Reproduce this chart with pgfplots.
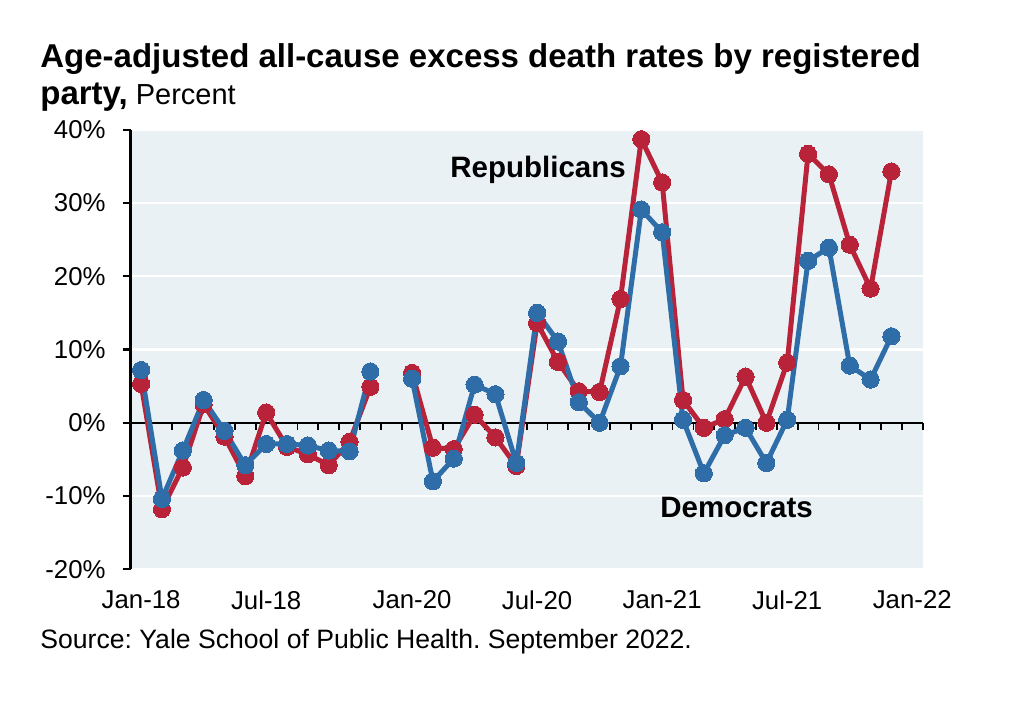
\documentclass[border=0pt]{standalone}
\usepackage{pgfplots}
\pgfplotsset{compat=1.18}
\usepackage{fontspec}
\setmainfont{Liberation Sans}
\definecolor{repred}{HTML}{B8233A}
\definecolor{demblue}{HTML}{2E6DA8}
\definecolor{plotbg}{HTML}{EAF1F5}
\begin{document}
\frenchspacing
\begin{tikzpicture}
\path[use as bounding box] (0,0) rectangle (509.5pt,352pt);
\begin{axis}[
  at={(65.35pt,67.35pt)}, anchor=south west,
  scale only axis, width=396pt, height=219.8pt,
  xmin=-0.5, xmax=37.5, ymin=-20, ymax=40,
  axis background/.style={fill=plotbg},
  x axis line style={draw=none},
  y axis line style={black, line width=1.2pt},
  separate axis lines,
  axis x line*=bottom, axis y line*=left,
  xtick={0,6,13,19,25,31,37},
  xticklabels={Jan-18,Jul-18,Jan-20,Jul-20,Jan-21,Jul-21,Jan-22},
  x tick style={draw=none},
  ytick={-20,-10,0,10,20,30,40},
  yticklabels={-20\%,-10\%,0\%,10\%,20\%,30\%,40\%},
  tick align=outside,
  y tick style={black, line width=1.1pt},
  major tick length=4pt,
  ymajorgrids, grid style={white, line width=1.1pt},
  ticklabel style={font=\fontsize{12.9pt}{14pt}\selectfont},
  yticklabel style={xshift=-5pt},
  xticklabel style={yshift=-3pt},
  unbounded coords=jump,
  clip=false,
]
% zero line and category ticks
\addplot[black, line width=1.1pt, no marks] coordinates {(-0.5,0) (37.5,0)};
\addplot[black, line width=0.9pt, ycomb, no marks] coordinates {
(0.5,-1) (1.5,-1) (2.5,-1) (3.5,-1) (4.5,-1) (5.5,-1) (6.5,-1) (7.5,-1) (8.5,-1) (9.5,-1)
(10.5,-1) (11.5,-1) (12.5,-1) (13.5,-1) (14.5,-1) (15.5,-1) (16.5,-1) (17.5,-1) (18.5,-1) (19.5,-1)
(20.5,-1) (21.5,-1) (22.5,-1) (23.5,-1) (24.5,-1) (25.5,-1) (26.5,-1) (27.5,-1) (28.5,-1) (29.5,-1)
(30.5,-1) (31.5,-1) (32.5,-1) (33.5,-1) (34.5,-1) (35.5,-1) (36.5,-1) (37.5,-1)};
% Republicans
\addplot[repred, line width=2.5pt, mark=*, mark size=4.3pt, mark options={solid, fill=repred, draw=repred, line width=0pt}] coordinates {
(0,5.3) (1,-11.8) (2,-6.1) (3,2.5) (4,-1.9) (5,-7.3) (6,1.4) (7,-3.3) (8,-4.3) (9,-5.8) (10,-2.6) (11,4.9)
(12,nan)
(13,6.8) (14,-3.4) (15,-3.6) (16,1.1) (17,-2.0) (18,-5.9) (19,13.6) (20,8.3) (21,4.3) (22,4.2) (23,16.9) (24,38.7)
(25,32.8) (26,3.1) (27,-0.7) (28,0.5) (29,6.3) (30,0.0) (31,8.2) (32,36.7) (33,33.9) (34,24.3) (35,18.3) (36,34.3)};
% Democrats
\addplot[demblue, line width=2.5pt, mark=*, mark size=4.3pt, mark options={solid, fill=demblue, draw=demblue, line width=0pt}] coordinates {
(0,7.2) (1,-10.4) (2,-3.8) (3,3.1) (4,-1.1) (5,-5.8) (6,-2.9) (7,-2.9) (8,-3.1) (9,-3.8) (10,-3.9) (11,7.0)
(12,nan)
(13,6.0) (14,-8.0) (15,-4.9) (16,5.2) (17,3.9) (18,-5.5) (19,15.0) (20,11.1) (21,2.8) (22,0.0) (23,7.7) (24,29.1)
(25,26.0) (26,0.4) (27,-6.9) (28,-1.7) (29,-0.7) (30,-5.5) (31,0.4) (32,22.1) (33,23.9) (34,7.8) (35,5.9) (36,11.8)};
\end{axis}
\node[anchor=base west, inner sep=0pt, font=\fontsize{16.5pt}{19pt}\selectfont\bfseries] at (20pt,318pt) {Age-adjusted all-cause excess death rates by registered};
\node[anchor=base west, inner sep=0pt] at (20pt,299.5pt) {\fontsize{16.5pt}{19pt}\selectfont\bfseries party,\fontsize{14.5pt}{17pt}\selectfont\mdseries{} Percent};
\node[anchor=base west, inner sep=0pt, font=\fontsize{14.75pt}{17pt}\selectfont\bfseries] at (225pt,263pt) {Republicans};
\node[anchor=base west, inner sep=0pt, font=\fontsize{14.75pt}{17pt}\selectfont\bfseries] at (330pt,93pt) {Democrats};
\node[anchor=base west, inner sep=0pt, font=\fontsize{13.3pt}{15pt}\selectfont] at (20pt,27.5pt) {Source: Yale School of Public Health. September 2022.};
\end{tikzpicture}
\end{document}
